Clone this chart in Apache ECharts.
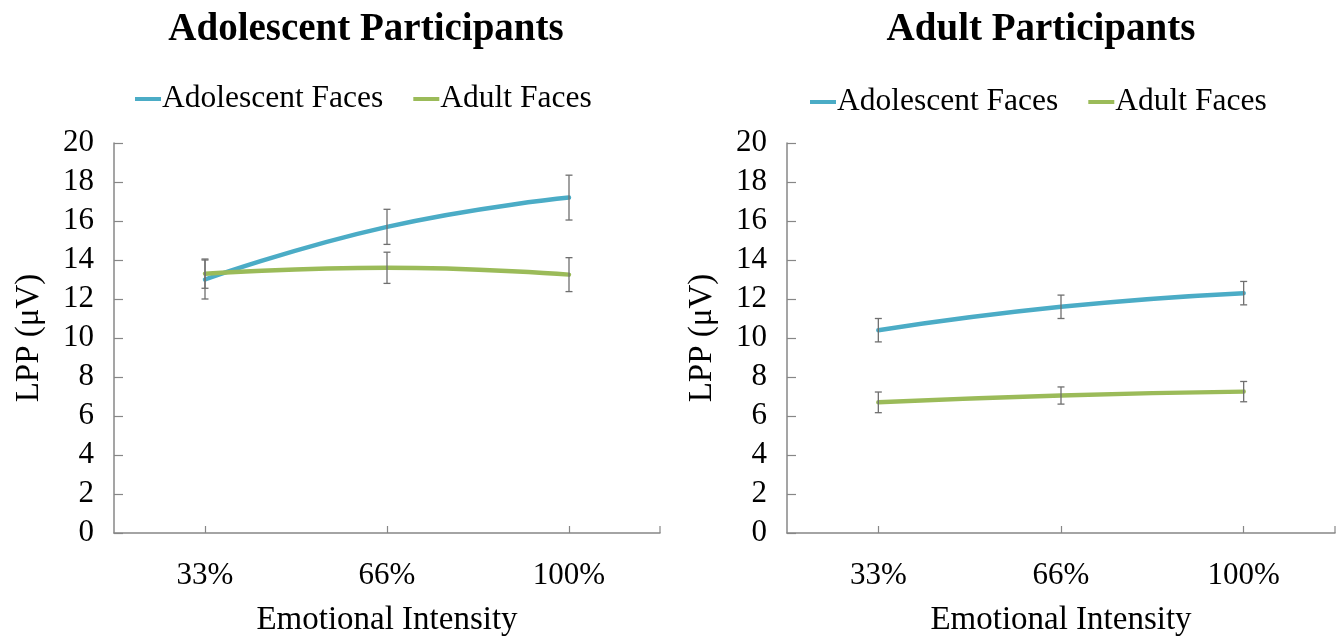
<!DOCTYPE html>
<html>
<head>
<meta charset="utf-8">
<script src="https://cdn.jsdelivr.net/npm/echarts@6/dist/echarts.min.js"></script>
<style>
  html, body { margin: 0; padding: 0; background: #fff; }
  #chart { width: 1344px; height: 638px; }
</style>
</head>
<body>
<div id="chart"></div>
<script>
// Emotional intensity levels (x categories)
const categories = ['33%', '66%', '100%'];
const yTicks = { min: 0, max: 20, interval: 2 };

// Adolescent participants: mean LPP (µV) and standard error
const adolescentAdolFaces = [13.0, 15.7, 17.2];
const adolescentAdolFacesErr = [1.0, 0.9, 1.15];
const adolescentAdultFaces = [13.3, 13.6, 13.25];
const adolescentAdultFacesErr = [0.75, 0.8, 0.87];

// Adult participants: mean LPP (µV) and standard error
const adultAdolFaces = [10.4, 11.6, 12.3];
const adultAdolFacesErr = [0.6, 0.6, 0.6];
const adultAdultFaces = [6.7, 7.05, 7.25];
const adultAdultFacesErr = [0.53, 0.44, 0.52];

const panelTitles = ['Adolescent Participants', 'Adult Participants'];
const seriesNames = ['Adolescent Faces', 'Adult Faces'];
const yName = 'LPP (μV)';
const xName = 'Emotional Intensity';

const BLUE = '#4BACC6';
const GREEN = '#9BBB59';
const AXIS = '#878787';
const ERR = '#6f6f6f';
const FONT = 'Liberation Serif';

function errorBars(idx, means, errs) {
  return {
    type: 'custom',
    xAxisIndex: idx,
    yAxisIndex: idx,
    z: 5,
    silent: true,
    data: means.map((m, i) => [i, m - errs[i], m + errs[i]]),
    renderItem: function (params, api) {
      const lo = api.coord([api.value(0), api.value(1)]);
      const hi = api.coord([api.value(0), api.value(2)]);
      const cap = 3.5;
      const style = { stroke: ERR, lineWidth: 1.3 };
      return {
        type: 'group',
        children: [
          { type: 'line', shape: { x1: lo[0], y1: lo[1], x2: hi[0], y2: hi[1] }, style: style },
          { type: 'line', shape: { x1: lo[0] - cap, y1: lo[1], x2: lo[0] + cap, y2: lo[1] }, style: style },
          { type: 'line', shape: { x1: hi[0] - cap, y1: hi[1], x2: hi[0] + cap, y2: hi[1] }, style: style }
        ]
      };
    }
  };
}

function lineSeries(idx, name, data, color) {
  return {
    type: 'line',
    name: name,
    xAxisIndex: idx,
    yAxisIndex: idx,
    data: data,
    smooth: true,
    symbol: 'none',
    z: 3,
    lineStyle: { color: color, width: 4.5, cap: 'round' },
    itemStyle: { color: color }
  };
}

const grids = [
  { left: 114, right: 684, top: 143, bottom: 105, outerBoundsMode: 'none', containLabel: false },
  { left: 787, right: 9, top: 143, bottom: 105, outerBoundsMode: 'none', containLabel: false }
];

function xAxis(idx) {
  return {
    type: 'category',
    gridIndex: idx,
    data: categories,
    boundaryGap: true,
    name: xName,
    nameLocation: 'middle',
    nameGap: 71,
    nameTextStyle: { fontFamily: FONT, fontSize: 33, color: '#000' },
    axisLine: { lineStyle: { color: AXIS, width: 1.5 } },
    axisTick: { show: true, alignWithLabel: true, inside: true, length: 7, lineStyle: { color: AXIS, width: 1.2 } },
    axisLabel: { fontFamily: FONT, fontSize: 31, color: '#000', margin: 27 },
    splitLine: { show: false }
  };
}

function yAxis(idx) {
  return {
    type: 'value',
    gridIndex: idx,
    min: yTicks.min,
    max: yTicks.max,
    interval: yTicks.interval,
    name: yName,
    nameLocation: 'middle',
    nameGap: 68,
    nameTextStyle: { fontFamily: FONT, fontSize: 33, color: '#000' },
    axisLine: { show: true, lineStyle: { color: AXIS, width: 1.5 } },
    axisTick: { show: true, inside: true, length: 9, lineStyle: { color: AXIS, width: 1.2 } },
    axisLabel: { fontFamily: FONT, fontSize: 31, color: '#000', margin: 20 },
    splitLine: { show: false }
  };
}

function legend(left, top) {
  return {
    top: top,
    left: left,
    orient: 'horizontal',
    data: seriesNames,
    icon: 'rect',
    itemWidth: 26,
    itemHeight: 4,
    itemGap: 30,
    textStyle: { fontFamily: FONT, fontSize: 31.5, color: '#000', padding: [0, 0, 0, -4] }
  };
}

const option = {
  backgroundColor: '#fff',
  animation: false,
  title: [
    { text: panelTitles[0], left: 361, top: 5, textAlign: 'center',
      textStyle: { fontFamily: FONT, fontSize: 39, fontWeight: 'bold', color: '#000' } },
    { text: panelTitles[1], left: 1036, top: 5, textAlign: 'center',
      textStyle: { fontFamily: FONT, fontSize: 39, fontWeight: 'bold', color: '#000' } }
  ],
  legend: [legend(130, 78), legend(805, 81)],
  grid: grids,
  xAxis: [xAxis(0), xAxis(1)],
  yAxis: [yAxis(0), yAxis(1)],
  series: [
    lineSeries(0, seriesNames[0], adolescentAdolFaces, BLUE),
    lineSeries(0, seriesNames[1], adolescentAdultFaces, GREEN),
    errorBars(0, adolescentAdolFaces, adolescentAdolFacesErr),
    errorBars(0, adolescentAdultFaces, adolescentAdultFacesErr),
    lineSeries(1, seriesNames[0], adultAdolFaces, BLUE),
    lineSeries(1, seriesNames[1], adultAdultFaces, GREEN),
    errorBars(1, adultAdolFaces, adultAdolFacesErr),
    errorBars(1, adultAdultFaces, adultAdultFacesErr)
  ]
};

const chart = echarts.init(document.getElementById('chart'), null, { renderer: 'canvas' });
chart.setOption(option);

// Closing tick mark at the far end of each category axis
const endTicks = [];
[0, 1].forEach(function (i) {
  const rect = chart.getModel().getComponent('grid', i).coordinateSystem.getRect();
  const x = rect.x + rect.width;
  const y = rect.y + rect.height;
  endTicks.push({
    type: 'line',
    shape: { x1: x, y1: y, x2: x, y2: y - 7 },
    style: { stroke: AXIS, lineWidth: 1.2 }
  });
});
chart.setOption({ graphic: endTicks });
</script>
</body>
</html>
